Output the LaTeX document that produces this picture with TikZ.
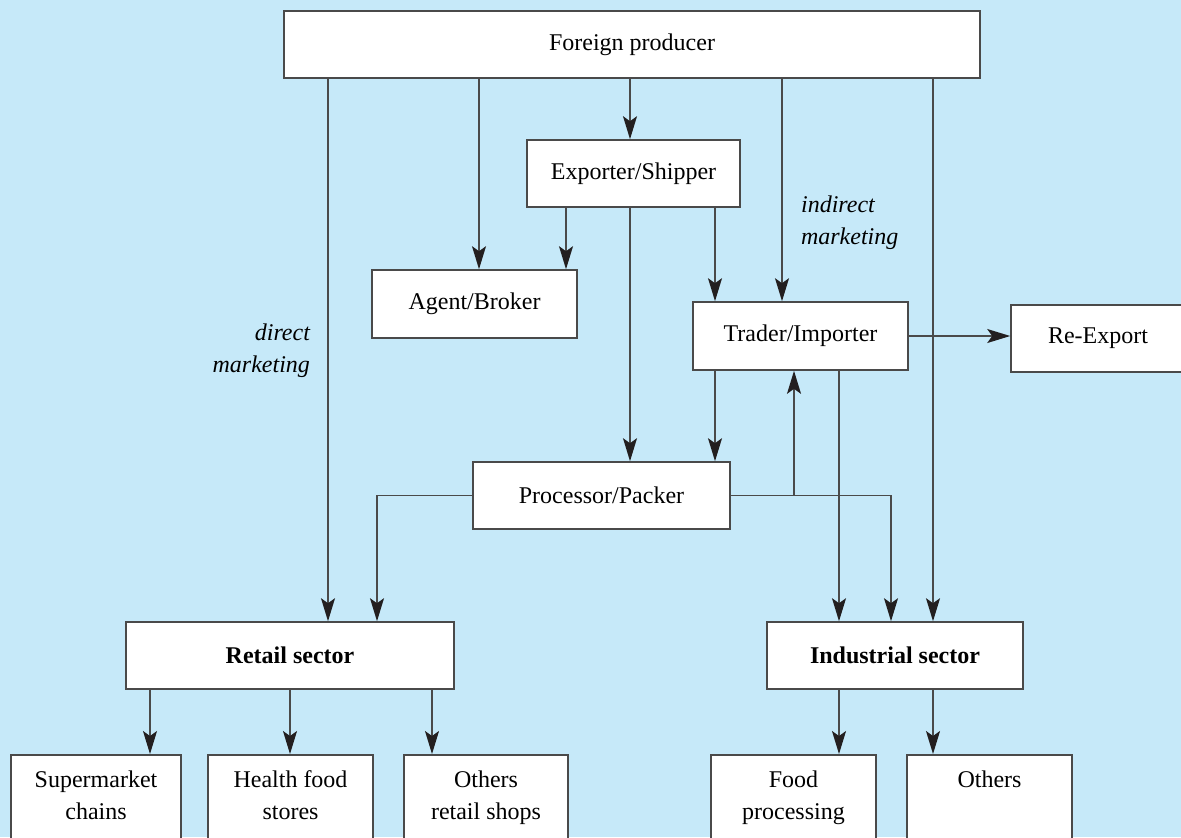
\documentclass[tikz,border=0pt]{standalone}
\usepackage{fontspec}
\setmainfont{Liberation Serif}
\usepackage{xcolor}
\definecolor{panelbg}{HTML}{C6E9F9}
\definecolor{linegray}{HTML}{4A4A4A}
\definecolor{tipblack}{HTML}{231F20}
\usepackage{tikz}
\usetikzlibrary{arrows.meta,positioning}

\begin{document}
\begin{tikzpicture}[
  x=0.5pt, y=-0.5pt,
  font=\fontsize{12}{16}\selectfont,
  box/.style={draw=linegray, line width=0.8pt, fill=white, align=center,
              inner sep=0pt, minimum height=33.5pt},
  leaf/.style={box, anchor=north, minimum height=0pt, inner xsep=0pt,
               inner ysep=7.5pt, text height=9pt, text depth=30pt},
  leaftwo/.style={leaf, text height=25pt},
  arr/.style={-{Stealth[length=11.5pt, width=7pt, inset=2.5pt, color=tipblack]},
              line width=0.75pt, draw=linegray},
  note/.style={font=\fontsize{12}{16}\selectfont\itshape}
]
\fill[panelbg] (0,0) rectangle (1181,837);
\useasboundingbox (0,0) rectangle (1181,837);

% boxes
\node[box, minimum width=348pt] (producer) at (632,44.5) {Foreign producer};
\node[box, minimum width=106.5pt] (exporter) at (633.5,173.5) {Exporter/Shipper};
\node[box, minimum width=102.5pt, minimum height=34pt] (agent) at (474.5,304) {Agent/Broker};
\node[box, minimum width=107.5pt, minimum height=34pt] (trader) at (800.5,336) {Trader/Importer};
\node[box, minimum width=87pt] (reexport) at (1098,338.5) {Re-Export};
\node[box, minimum width=128.5pt] (processor) at (601.5,495.5) {Processor/Packer};
\node[box, minimum width=164pt] (retail) at (290,655.5) {\textbf{Retail sector}};
\node[box, minimum width=128pt] (industrial) at (895,655.5) {\textbf{Industrial sector}};

\node[leaftwo, minimum width=85pt] (supermarket) at (96,754) {Supermarket\\chains};
\node[leaftwo, minimum width=82.5pt] (health) at (290.5,754) {Health food\\stores};
\node[leaftwo, minimum width=82pt] (retailshops) at (486,754) {Others\\retail shops};
\node[leaftwo, minimum width=82.5pt] (foodproc) at (793.5,754) {Food\\processing};
\node[leaf, minimum width=82.5pt] (otherind) at (989.5,754) {Others};

% labels
\node[note, align=left, anchor=west] (indirect) at (794,223) {indirect\\marketing};
\node[note, align=right, anchor=east] (direct) at (317,351) {direct\\marketing};

% from the producer
\draw[arr] (328,0 |- producer.south) -- (328,0 |- retail.north);
\draw[arr] (479,0 |- producer.south) -- (479,0 |- agent.north);
\draw[arr] (630,0 |- producer.south) -- (630,0 |- exporter.north);
\draw[arr] (782,0 |- producer.south) -- (782,0 |- trader.north);
\draw[arr] (933,0 |- producer.south) -- (933,0 |- industrial.north);

% from the exporter
\draw[arr] (566,0 |- exporter.south) -- (566,0 |- agent.north);
\draw[arr] (630,0 |- exporter.south) -- (630,0 |- processor.north);
\draw[arr] (715,0 |- exporter.south) -- (715,0 |- trader.north);

% from the trader
\draw[arr] (715,0 |- trader.south) -- (715,0 |- processor.north);
\draw[arr] (839,0 |- trader.south) -- (839,0 |- industrial.north);
\draw[arr] (trader.east) -- (trader.east -| reexport.west);

% from the processor
\draw[arr] (processor.west) -| (377,0 |- retail.north);
\draw[arr] (processor.east) -| (891,0 |- industrial.north);
\draw[arr] (794,0 |- processor.east) -- (794,0 |- trader.south);

% sectors to outlets
\foreach \x/\dest in {150/supermarket, 290/health, 432/retailshops}
  \draw[arr] (\x,0 |- retail.south) -- (\x,0 |- \dest.north);
\foreach \x/\dest in {839/foodproc, 933/otherind}
  \draw[arr] (\x,0 |- industrial.south) -- (\x,0 |- \dest.north);
\end{tikzpicture}
\end{document}
